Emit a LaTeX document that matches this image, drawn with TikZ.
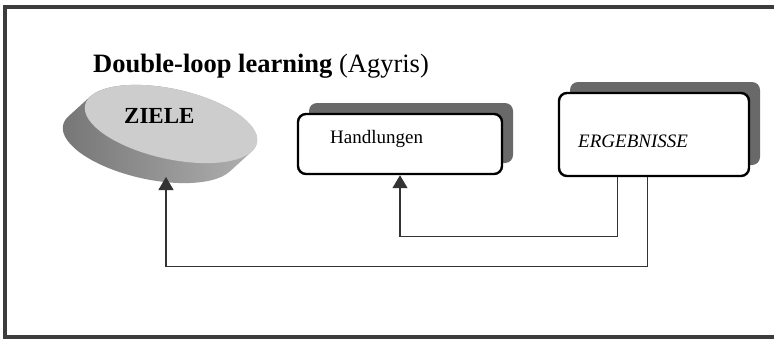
\documentclass[tikz,border=0pt]{standalone}
\usepackage{fontspec}
\setmainfont{Liberation Serif}
\usetikzlibrary{positioning,calc,shadows,arrows.meta}
\definecolor{framegray}{RGB}{60,60,60}
\definecolor{shadowgray}{RGB}{105,105,105}
\definecolor{disctop}{RGB}{205,205,205}
\definecolor{discdark}{RGB}{115,115,115}
\definecolor{disclight}{RGB}{180,180,180}

\begin{document}
\begin{tikzpicture}[
    x=1pt, y=-1pt,
    card/.style={rectangle, draw=black, line width=2.4pt, rounded corners=8pt, fill=white,
        drop shadow={shadow xshift=11pt, shadow yshift=11pt, fill=shadowgray, opacity=1}},
    cardtext/.style={anchor=base west, inner sep=0pt, font=\fontsize{19}{22}\selectfont},
    arrow/.style={-{Triangle[length=13pt,width=15pt]}, line width=1.1pt, draw=black!80}
]
    \useasboundingbox (0,0) rectangle (774,343);
    \draw[framegray, line width=4pt] (774,7) -- (5,7) -- (5,337) -- (774,337);

    \node[anchor=base west, inner sep=0pt, font=\fontsize{26.5}{32}\selectfont] (title) at (93,72)
        {\textbf{Double-loop learning} (Agyris)};

    % ZIELE disc: body, then top face
    \begin{scope}[shift={(171,124)}, rotate=-12.5, x=1pt, y=1pt]
        \shade[left color=discdark, right color=disclight]
            ($(-17.15,-24.29)+(-15.7:88 and 35)$) arc[start angle=-15.7, end angle=-195.7, x radius=88, y radius=35]
            -- (164.3:88 and 35) arc[start angle=164.3, end angle=-15.7, x radius=88, y radius=35] -- cycle;
        \fill[disctop] (0,0) ellipse [x radius=88, y radius=35];
    \end{scope}
    \node[anchor=base west, inner sep=0pt, font=\fontsize{23}{26}\selectfont\bfseries] (ziele) at (124,123) {ZIELE};
    \coordinate (zielebase) at (166,177);

    % boxes
    \node[card, minimum width=204pt, minimum height=60pt] (handl) at (400,144) {};
    \node[cardtext] (handltext) at (330,143) {Handlungen};
    \node[card, minimum width=190pt, minimum height=83pt] (ergeb) at (654,134.5) {};
    \node[cardtext, font=\fontsize{19}{22}\selectfont\itshape] (ergebtext) at (578,147) {ERGEBNISSE};

    % feedback loops
    \draw[arrow] ([xshift=60pt]ergeb.south west) -- ++(0,59) -| (handl.south);
    \draw[arrow] ([xshift=90pt]ergeb.south west) -- ++(0,89) -| (zielebase);
\end{tikzpicture}
\end{document}
